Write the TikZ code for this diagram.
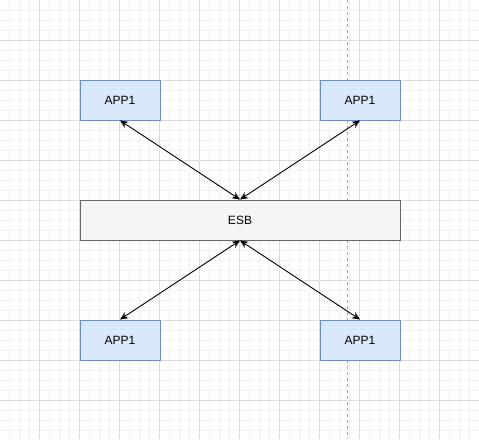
\documentclass[tikz,border=0pt]{standalone}
\usepackage{fontspec}
\setmainfont{Liberation Sans}
\usetikzlibrary{arrows.meta}
\definecolor{appfill}{HTML}{DAE8FC}
\definecolor{appdraw}{HTML}{6C8EBF}
\definecolor{esbfill}{HTML}{F5F5F5}
\definecolor{esbdraw}{HTML}{666666}
\definecolor{gridminor}{HTML}{F1F1F1}
\definecolor{gridmajor}{HTML}{DCDCDC}
\tikzset{
  appbox/.style={draw=appdraw, fill=appfill, line width=0.9pt, minimum width=80pt, minimum height=40pt, inner sep=0pt, font=\fontsize{12}{14}\selectfont},
  esbbox/.style={draw=esbdraw, fill=esbfill, line width=0.9pt, minimum width=320pt, minimum height=40pt, inner sep=0pt, font=\fontsize{12}{14}\selectfont},
  link/.style={draw=black, line width=0.9pt, {Stealth[length=8pt,width=7pt,inset=2.5pt]}-{Stealth[length=8pt,width=7pt,inset=2.5pt]}},
  minorline/.style={draw=gridminor, line width=0.8pt},
  majorline/.style={draw=gridmajor, line width=0.8pt},
  guide/.style={draw=gray!70, line width=0.8pt, dash pattern=on 3pt off 3pt}
}
\begin{document}
\begin{tikzpicture}[x=1pt,y=-1pt]
\useasboundingbox (0,0) rectangle (479,439);
\fill[white] (0,0) rectangle (479,439);
\foreach \i in {0,...,47} {\draw[minorline] (9.5+10*\i,0) -- (9.5+10*\i,439);}
\foreach \i in {0,...,43} {\draw[minorline] (0,10.5+10*\i) -- (479,10.5+10*\i);}
\foreach \i in {0,...,11} {\draw[majorline] (39.5+40*\i,0) -- (39.5+40*\i,439);}
\foreach \i in {0,...,10} {\draw[majorline] (0,40.5+40*\i) -- (479,40.5+40*\i);}
\coordinate (gtop) at (347.5,0);
\coordinate (gbot) at (347.5,439);
\draw[guide] (gtop) -- (gbot);
\node[appbox] (a1) at (120,100) {APP1};
\node[appbox] (a2) at (360,100) {APP1};
\node[appbox] (a3) at (120,340) {APP1};
\node[appbox] (a4) at (360,340) {APP1};
\node[esbbox] (esb) at (240,220) {ESB};
\draw[link] (a1.south) -- (esb.north);
\draw[link] (a2.south) -- (esb.north);
\draw[link] (esb.south) -- (a3.north);
\draw[link] (esb.south) -- (a4.north);
\end{tikzpicture}
\end{document}
